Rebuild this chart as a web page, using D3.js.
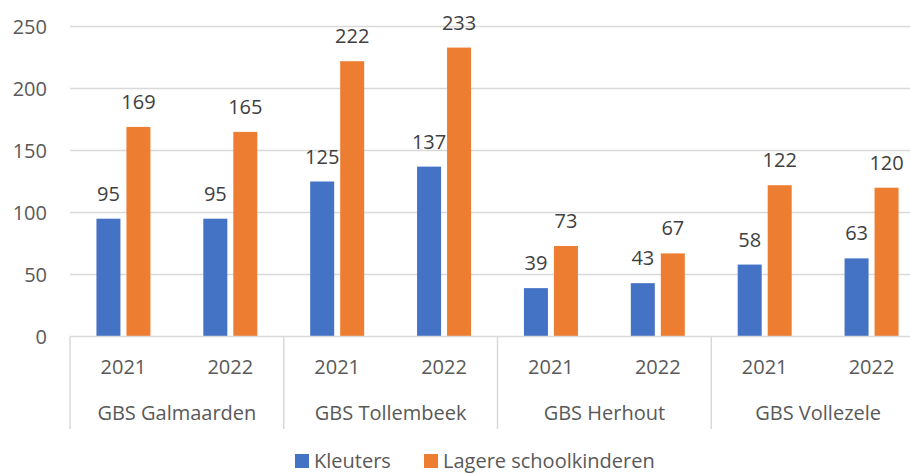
<!DOCTYPE html>
<html>
<head>
<meta charset="utf-8">
<script src="https://cdn.jsdelivr.net/npm/d3@7"></script>
<style>
  body { margin: 0; background: #fff; }
  text { font-family: "Open Sans", sans-serif; fill: #595959; }
</style>
</head>
<body>
<div id="chart"></div>
<script>
// Data
var schools = ["GBS Galmaarden", "GBS Tollembeek", "GBS Herhout", "GBS Vollezele"];
var years = ["2021", "2022"];
var kleuters = [95, 95, 125, 137, 39, 43, 58, 63];
var lagere = [169, 165, 222, 233, 73, 67, 122, 120];
var seriesNames = ["Kleuters", "Lagere schoolkinderen"];
var seriesColors = ["#4472C4", "#ED7D31"];
var yTicks = [0, 50, 100, 150, 200, 250];

var width = 910, height = 474;
var plotLeft = 70, plotRight = 925, plotTop = 26.5, plotBottom = 336.5;

var svg = d3.select("#chart").append("svg")
    .attr("width", width)
    .attr("height", height);

// rows: one per school/year
var rows = [];
schools.forEach(function(s, i) {
    years.forEach(function(yr, j) {
        var k = i * years.length + j;
        rows.push({ key: s + "|" + yr, school: s, year: yr, values: [kleuters[k], lagere[k]] });
    });
});

var y = d3.scaleLinear().domain([0, 250]).range([plotBottom, plotTop]);
var xSchool = d3.scaleBand().domain(schools).range([plotLeft, plotRight]);
var xRow = d3.scaleBand().domain(rows.map(function(d) { return d.key; })).range([plotLeft, plotRight]);
var xSeries = d3.scaleBand().domain([0, 1]).range([-27, 27]).paddingInner(0.2);

// Gridlines
svg.append("g").selectAll("line")
    .data(yTicks.filter(function(t) { return t > 0; }))
    .enter().append("line")
    .attr("x1", plotLeft).attr("x2", width)
    .attr("y1", function(d) { return y(d); })
    .attr("y2", function(d) { return y(d); })
    .attr("stroke", "#d9d9d9")
    .attr("stroke-width", 1.5);

// Y tick labels
svg.append("g").selectAll("text")
    .data(yTicks)
    .enter().append("text")
    .attr("x", 47)
    .attr("y", function(d) { return y(d); })
    .attr("dy", "0.35em")
    .attr("text-anchor", "end")
    .style("font-size", "20px")
    .text(function(d) { return d; });

// Bars
var groups = svg.append("g").selectAll("g")
    .data(rows)
    .enter().append("g")
    .attr("transform", function(d) {
        return "translate(" + (xRow(d.key) + xRow.bandwidth() / 2) + ",0)";
    });

groups.selectAll("rect")
    .data(function(d) { return d.values.map(function(v, i) { return { v: v, i: i }; }); })
    .enter().append("rect")
    .attr("x", function(d) { return xSeries(d.i); })
    .attr("width", xSeries.bandwidth())
    .attr("y", function(d) { return y(d.v); })
    .attr("height", function(d) { return y(0) - y(d.v); })
    .attr("fill", function(d) { return seriesColors[d.i]; });

groups.selectAll("text")
    .data(function(d) { return d.values.map(function(v, i) { return { v: v, i: i }; }); })
    .enter().append("text")
    .attr("x", function(d) { return xSeries(d.i) + xSeries.bandwidth() / 2; })
    .attr("y", function(d) { return y(d.v) - 25; })
    .attr("dy", "0.35em")
    .attr("text-anchor", "middle")
    .style("font-size", "20px")
    .style("fill", "#404040")
    .text(function(d) { return d.v; });

// X axis line
svg.append("line")
    .attr("x1", plotLeft).attr("x2", width)
    .attr("y1", plotBottom).attr("y2", plotBottom)
    .attr("stroke", "#d9d9d9")
    .attr("stroke-width", 1.5);

// Group separators
svg.append("g").selectAll("line")
    .data(schools)
    .enter().append("line")
    .attr("x1", function(d) { return xSchool(d); })
    .attr("x2", function(d) { return xSchool(d); })
    .attr("y1", plotBottom).attr("y2", 429)
    .attr("stroke", "#d9d9d9")
    .attr("stroke-width", 1.5);

// Year labels
svg.append("g").selectAll("text")
    .data(rows)
    .enter().append("text")
    .attr("x", function(d) { return xRow(d.key) + xRow.bandwidth() / 2; })
    .attr("y", 367)
    .attr("dy", "0.35em")
    .attr("text-anchor", "middle")
    .style("font-size", "20px")
    .text(function(d) { return d.year; });

// School labels
svg.append("g").selectAll("text")
    .data(schools)
    .enter().append("text")
    .attr("x", function(d) { return xSchool(d) + xSchool.bandwidth() / 2; })
    .attr("y", 413)
    .attr("dy", "0.35em")
    .attr("text-anchor", "middle")
    .style("font-size", "20px")
    .text(function(d) { return d; });

// Legend
var legendX = [295, 424];
var legend = svg.append("g").selectAll("g")
    .data(seriesNames)
    .enter().append("g")
    .attr("transform", function(d, i) { return "translate(" + legendX[i] + ",454)"; });

legend.append("rect")
    .attr("width", 14).attr("height", 14)
    .attr("fill", function(d, i) { return seriesColors[i]; });

legend.append("text")
    .attr("x", 19)
    .attr("y", 7)
    .attr("dy", "0.35em")
    .style("font-size", "20px")
    .text(function(d) { return d; });
</script>
</body>
</html>
